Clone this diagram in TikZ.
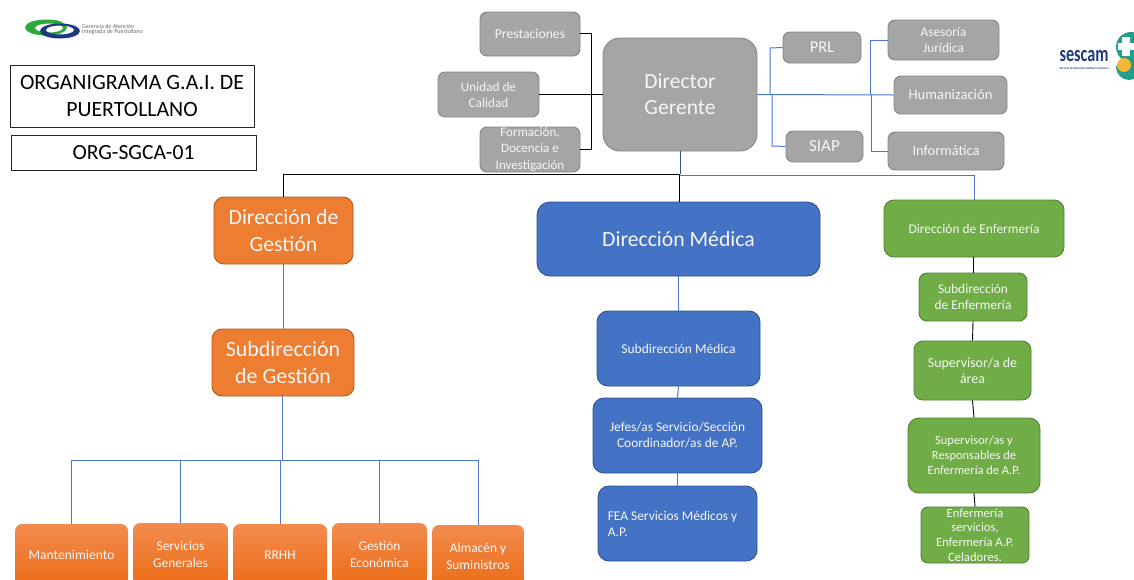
\documentclass[tikz,border=0pt]{standalone}
\usepackage{fontspec}
\setmainfont{Carlito}
\definecolor{gfill}{HTML}{A5A5A5}\definecolor{gedge}{HTML}{858585}
\definecolor{bfill}{HTML}{4472C4}\definecolor{bedge}{HTML}{2F528F}
\definecolor{vfill}{HTML}{70AD47}\definecolor{vedge}{HTML}{507E32}
\definecolor{ofill}{HTML}{ED7D31}\definecolor{oedge}{HTML}{AE5A21}
\definecolor{otop}{HTML}{F38B4E}\definecolor{obot}{HTML}{EB6D18}
\definecolor{linkb}{HTML}{4A78CC}
\definecolor{ntext}{HTML}{F6F6F6}
\definecolor{navy}{HTML}{1C3A7C}\definecolor{tealS}{HTML}{22A08C}
\definecolor{gaig}{HTML}{2FA83A}\definecolor{yelS}{HTML}{F5B735}
\newcommand{\fs}[2]{\fontsize{#1}{#2}\selectfont}
\tikzset{
  x=1pt,y=-1pt,
  box/.style={draw,line width=.9pt,inner sep=0pt,align=center,text=ntext,rounded corners=7pt},
  grey/.style={box,fill=gfill,draw=gedge},
  blue/.style={box,fill=bfill,draw=bedge},
  green/.style={box,fill=vfill,draw=vedge},
  orangemain/.style={box,fill=ofill,draw=oedge,rounded corners=10pt},
  orange/.style={box,draw=none,top color=otop,bottom color=obot,rounded corners=7pt},
  title/.style={draw=black!85,line width=.9pt,inner sep=0pt,align=center,text=black},
  lb/.style={draw=linkb,line width=1pt},
  lk/.style={draw=black,line width=.9pt},
}
\begin{document}
\begin{tikzpicture}
\useasboundingbox (0,0) rectangle (1134,579);
\clip (0,0) rectangle (1134,579);
\coordinate (jl1) at (591,33);
\coordinate (jl2) at (591,149);
\coordinate (jr1a) at (770,48);
\coordinate (jr1b) at (770,94.5);
\coordinate (jr2a) at (772,146);
\coordinate (jr2b) at (772,95);
\coordinate (jr3a) at (870,40);
\coordinate (jr3b) at (870,95);
\coordinate (jr4a) at (871,151);
\coordinate (jr4b) at (871,95);
\coordinate (jd) at (680,174);
\coordinate (jm) at (679,174);
\coordinate (jdl) at (283,174);
\coordinate (jdr) at (974,175);
\coordinate (jdb) at (680,175);
\coordinate (jo) at (282,460);
% nodes
\node[grey,minimum width=100pt,minimum height=44pt,font=\fs{13.7}{16}] (prest) at (530,34) {Prestaciones};
\node[grey,minimum width=101pt,minimum height=45pt,font=\fs{13.2}{16}] (unidad) at (488.5,94.5) {Unidad de\\Calidad};
\node[grey,minimum width=100pt,minimum height=45pt,font=\fs{13}{16.5}] (form) at (530,149.5) {Formación,\\Docencia e\\Investigación};
\node[grey,minimum width=154pt,minimum height=113pt,rounded corners=17pt,font=\fs{21.6}{26}] (dir) at (680,94.5) {\raisebox{-1pt}{Director}\\\raisebox{-1pt}{Gerente}};
\node[grey,minimum width=78pt,minimum height=31pt,font=\fs{16.5}{19}] (prl) at (822,47.5) {PRL};
\node[grey,minimum width=111pt,minimum height=40pt,font=\fs{13.3}{16}] (ases) at (943.5,40) {Asesoría\\Jurídica};
\node[grey,minimum width=113pt,minimum height=38pt,font=\fs{14.6}{17}] (hum) at (950.5,95) {Humanización};
\node[grey,minimum width=77pt,minimum height=31pt,font=\fs{17}{19}] (siap) at (824.5,146.5) {SIAP};
\node[grey,minimum width=116pt,minimum height=38pt,font=\fs{14.4}{17}] (info) at (946,151) {Informática};

\node[orangemain,minimum width=139pt,minimum height=67pt,font=\fs{21.7}{26.5}] (dg) at (283.5,230.5) {Dirección de\\Gestión};
\node[blue,minimum width=283pt,minimum height=74pt,rounded corners=13pt,font=\fs{21.7}{26}] (dm) at (678.5,239) {Dirección Médica};
\node[green,minimum width=180pt,minimum height=57pt,rounded corners=10pt,font=\fs{13.4}{16}] (de) at (974,228.5) {Dirección de Enfermería};

\node[orangemain,minimum width=142pt,minimum height=67pt,font=\fs{21.9}{26.5}] (sg) at (283,362.5) {Subdirección\\de Gestión};
\node[blue,minimum width=163pt,minimum height=75pt,rounded corners=11pt,font=\fs{13.5}{16}] (sm) at (678.5,348.5) {Subdirección Médica};
\node[blue,minimum width=169pt,minimum height=75pt,rounded corners=11pt,font=\fs{13.4}{16}] (je) at (677.5,435.5) {Jefes/as Servicio/Sección\\Coordinador/as de AP.};
\node[blue,minimum width=159pt,minimum height=75pt,rounded corners=11pt,font=\fs{13.4}{16},align=left] (fea) at (677.5,523.5) {\hspace*{3pt}FEA Servicios Médicos y\hspace*{13pt}\\[0pt]\hspace*{3pt}A.P.};
\node[green,minimum width=108pt,minimum height=48pt,rounded corners=8pt,font=\fs{13.4}{16}] (se) at (973,297) {Subdirección\\de Enfermería};
\node[green,minimum width=117pt,minimum height=59pt,rounded corners=9pt,font=\fs{13.9}{16}] (sa) at (972.5,370.5) {Supervisor/a de\\área};
\node[green,minimum width=132pt,minimum height=75pt,rounded corners=11pt,font=\fs{12.45}{15}] (sp) at (974,455.5) {Supervisor/as y\\Responsables de\\Enfermería de A.P.};
\node[green,minimum width=108pt,minimum height=56pt,rounded corners=7pt,font=\fs{12.6}{14.6}] (es) at (975,535) {Enfermería\\servicios,\\Enfermería A.P.\\Celadores.};

\node[orange,minimum width=113pt,minimum height=62pt,font=\fs{13.6}{17}] (o1) at (71.5,555) {Mantenimiento};
\node[orange,minimum width=95pt,minimum height=62pt,font=\fs{13.4}{17}] (o2) at (180.5,554) {Servicios\\Generales};
\node[orange,minimum width=94pt,minimum height=62pt,font=\fs{13.4}{17}] (o3) at (280,555) {RRHH};
\node[orange,minimum width=95pt,minimum height=62pt,font=\fs{13.4}{17}] (o4) at (379.5,554) {Gestión\\Económica};
\node[orange,minimum width=92pt,minimum height=62pt,font=\fs{13.4}{17}] (o5) at (478,556) {Almacén y\\Suministros};

\node[title,minimum width=244pt,minimum height=62pt,font=\fs{21.8}{27}] (t1) at (132,96) {ORGANIGRAMA G.A.I. DE\\PUERTOLLANO};
\node[title,minimum width=245pt,minimum height=35pt,font=\fs{21.6}{24}] (t2) at (133.5,152.5) {ORG-SGCA-01};

% connectors
\draw[lk] (prest.east|-jl1) -- (jl1) -- (jl2) -- (form.east|-jl2);
\draw[lk] (unidad.east) -- (dir.west);
\draw[lb] (dir.east) -- (hum.west);
\draw[lb] (prl.west) -- (jr1a) -- (jr1b);
\draw[lb] (siap.west) -- (jr2a) -- (jr2b);
\draw[lb] (ases.west) -- (jr3a) -- (jr3b);
\draw[lb] (info.west) -- (jr4a) -- (jr4b);
\draw[lb,draw=bedge] (dir.south) -- (jd);
\draw[lb] (jdb) -- (jdr) -- (de.north);
\draw[lk] (jd) -- (jdl) -- (dg.north-|jdl);
\draw[lk] (jm) -- (dm.north-|jm);
\draw[lb] (dg.south-|jdl) -- (sg.north-|jdl);
\draw[lb] (sg.south-|jo) -- (jo);
\draw[lb] (o1.north) -- (o1.north|-jo) -- (o5.north|-jo) -- (o5.north);
\draw[lb] (o2.north) -- (o2.north|-jo);
\draw[lb] (o3.north) -- (o3.north|-jo);
\draw[lb,line width=.7pt] (o4.north) -- (o4.north|-jo);
\draw[lb] (dm.south) -- (sm.north);
\draw[lb] (sm.south) -- (je.north);
\draw[lb] (je.south) -- (fea.north);
\draw[lk] (de.south-|se) -- (se.north);
\draw[lk] (se.south) -- (sa.north);
\draw[lk] (sa.south) -- (sp.north);
\draw[lk] (sp.south) -- (es.north);

% logo GAI
\fill[gaig,even odd rule] (46,27.5) ellipse [x radius=21pt,y radius=8pt] (49,28) ellipse [x radius=14pt,y radius=4.5pt];
\fill[navy,even odd rule] (60,31) ellipse [x radius=20pt,y radius=7.5pt] (60,30) ellipse [x radius=14pt,y radius=4.5pt];
\fill[gaig] (38,23) .. controls (46,19) and (56,19) .. (62,22) .. controls (54,22) and (46,23) .. cycle;
\node[inner sep=0pt,align=left,text=black!60,font=\fs{6}{5.2},anchor=west] (gai) at (82,29.5) {Gerencia de Atención\\Integrada de Puertollano};

% logo sescam
\node[inner sep=0pt,text=navy,font=\bfseries\fs{18}{18}] (ses) at (1084,56.5) {\scalebox{.9}[1.25]{sescam}};
\node[inner sep=0pt,text=navy,font=\bfseries\fs{3}{4}] (ses2) at (1084,68) {Servicio de Salud de Castilla-La Mancha};
\fill[tealS] (1131,47) circle (15pt);
\fill[tealS] (1129,67) circle (13pt);
\fill[white] (1112,58) rectangle (1121,66);
\fill[yelS] (1124,65) circle (7pt);
\fill[white] (1118,43) rectangle (1134,50);
\fill[white] (1122,37) rectangle (1130,56);
\end{tikzpicture}
\end{document}
